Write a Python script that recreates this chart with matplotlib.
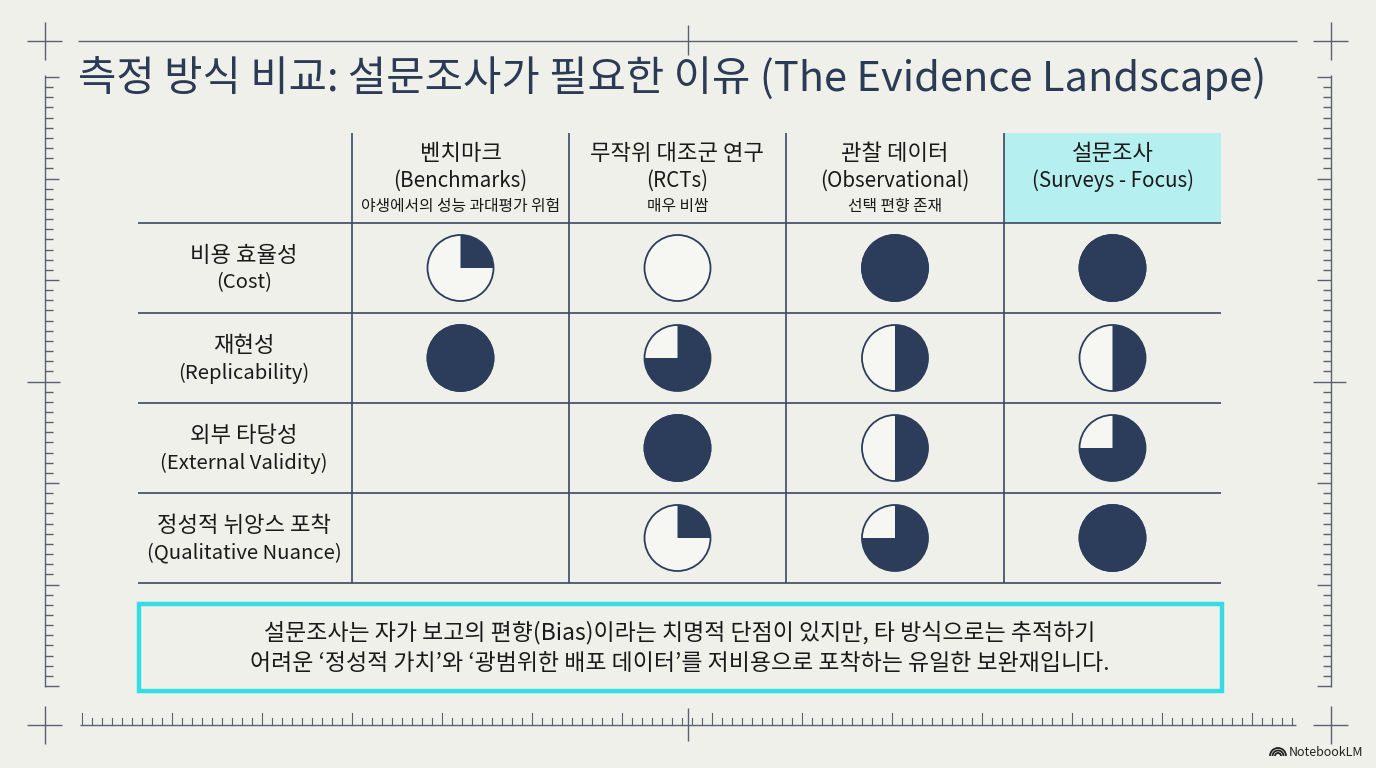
import matplotlib
matplotlib.use("Agg")
import matplotlib.pyplot as plt
from matplotlib.patches import Circle, Wedge, Rectangle, Arc

plt.rcParams['font.family'] = ['Noto Sans CJK KR', 'DejaVu Sans']

# ---- data ----
title = "측정 방식 비교: 설문조사가 필요한 이유 (The Evidence Landscape)"
col_ko = ["벤치마크", "무작위 대조군 연구", "관찰 데이터", "설문조사"]
col_en = ["(Benchmarks)", "(RCTs)", "(Observational)", "(Surveys - Focus)"]
col_note = ["야생에서의 성능 과대평가 위험", "매우 비쌈", "선택 편향 존재", ""]
row_ko = ["비용 효율성", "재현성", "외부 타당성", "정성적 뉘앙스 포착"]
row_en = ["(Cost)", "(Replicability)", "(External Validity)", "(Qualitative Nuance)"]
# harvey ball fill (fraction, clockwise from 12 o'clock); None = empty cell
scores = [
    [0.25, 0.0, 1.0, 1.0],
    [1.0, 0.75, 0.5, 0.5],
    [None, 1.0, 0.5, 0.75],
    [None, 0.25, 0.75, 1.0],
]
highlight_col = 3
footer = ["설문조사는 자가 보고의 편향(Bias)이라는 치명적 단점이 있지만, 타 방식으로는 추적하기",
          "어려운 ‘정성적 가치’와 ‘광범위한 배포 데이터’를 저비용으로 포착하는 유일한 보완재입니다."]

# ---- style ----
BG = "#f0f0ea"
NAVY = "#2c3d5c"
LINE = "#3a4862"
TXT = "#1a1a1a"
RULE = "#5a6070"
CYAN_FILL = "#b6eff0"
CYAN_EDGE = "#34dde5"
BALL_BG = "#f6f6f2"

W, H = 1376, 768
fig = plt.figure(figsize=(W / 100, H / 100), dpi=100, facecolor=BG)
ax = fig.add_axes([0, 0, 1, 1])
ax.set_xlim(0, W)
ax.set_ylim(H, 0)
ax.axis("off")
ax.set_facecolor(BG)

# ---- frame / rulers ----
rkw = dict(color=RULE, lw=1.0, solid_capstyle="butt")
ax.plot([78, 1297], [41, 41], **rkw)
ax.plot([688, 688], [25, 55], **rkw)
for cx, cy in [(45, 41), (1331, 41), (45, 725), (1331, 725)]:
    ax.plot([cx - 18, cx + 17], [cy, cy], **rkw)
    ax.plot([cx, cx], [cy - 19, cy + 19], **rkw)

# side rulers
for side, sx in [(1, 45), (-1, 1331)]:
    ax.plot([sx, sx], [75, 687], **rkw)
    for i in range(61):
        y = 77 + i * 10.15
        if i == 30:
            ax.plot([sx - 18, sx + 15], [y, y], **rkw)
        elif i % 10 == 0:
            ax.plot([sx, sx + side * 14], [y, y], **rkw)
        else:
            ax.plot([sx, sx + side * 8], [y, y], **rkw)

# bottom ruler
ax.plot([80, 1296], [725, 725], **rkw)
for i in range(122):
    x = 82 + i * 10.0
    ln = 12 if i % 9 == 0 else 7
    ax.plot([x, x], [725, 725 - ln], color=RULE, lw=0.8)
ax.plot([688, 688], [708, 741], **rkw)

# ---- title ----
ax.text(78, 78, title, fontsize=30, color="#2b3a55", ha="left", va="center",
        fontweight="medium")

# ---- table ----
col_edges = [352, 569, 786, 1004, 1221]
row_edges = [223, 313, 403, 493, 583]
top = 133
left = 138

ax.add_patch(Rectangle((col_edges[highlight_col], top),
                       col_edges[highlight_col + 1] - col_edges[highlight_col],
                       row_edges[0] - top, facecolor=CYAN_FILL, edgecolor="none"))

lkw = dict(color=LINE, lw=1.2, solid_capstyle="butt")
for y in row_edges:
    ax.plot([left, col_edges[-1]], [y, y], **lkw)
for x in col_edges[:-1]:
    ax.plot([x, x], [top, row_edges[-1]], **lkw)

for j in range(len(col_ko)):
    cx = (col_edges[j] + col_edges[j + 1]) / 2
    ax.text(cx, 154, col_ko[j], fontsize=16, color=TXT, ha="center", va="center",
            fontweight="medium")
    ax.text(cx, 181, col_en[j], fontsize=14.8, color=TXT, ha="center", va="center")
    if col_note[j]:
        ax.text(cx, 207, col_note[j], fontsize=11.4, color=TXT, ha="center", va="center")

for i in range(len(row_ko)):
    cy = (row_edges[i] + row_edges[i + 1]) / 2
    ax.text(244, cy - 13, row_ko[i], fontsize=16, color=TXT, ha="center", va="center",
            fontweight="medium")
    ax.text(244, cy + 15, row_en[i], fontsize=14.6, color=TXT, ha="center", va="center")
    for j, val in enumerate(scores[i]):
        if val is None:
            continue
        cx = (col_edges[j] + col_edges[j + 1]) / 2
        r = 33
        ax.add_patch(Circle((cx, cy), r, facecolor=BALL_BG, edgecolor=NAVY, lw=1.3, zorder=3))
        if val >= 1:
            ax.add_patch(Circle((cx, cy), r, facecolor=NAVY, edgecolor=NAVY, lw=1.3, zorder=4))
        elif val > 0:
            # y axis is inverted, so ccw in data = clockwise on screen
            ax.add_patch(Wedge((cx, cy), r, -90, -90 + 360 * val,
                               facecolor=NAVY, edgecolor="none", zorder=4))

# ---- footer box ----
ax.add_patch(Rectangle((139, 604), 1083, 87, facecolor="none",
                       edgecolor=CYAN_EDGE, lw=3.2, zorder=2))
ax.text(680, 633, footer[0], fontsize=16.5, color=TXT, ha="center", va="center",
        fontweight="medium")
ax.text(680, 663, footer[1], fontsize=16.5, color=TXT, ha="center", va="center",
        fontweight="medium")

# ---- watermark ----
for rr in (3, 5.5, 8):
    ax.add_patch(Arc((1278, 756), 2 * rr, 2 * rr, theta1=180, theta2=360,
                     color="#222222", lw=1.3))
ax.text(1289, 752, "NotebookLM", fontsize=9, color="#222222", ha="left", va="center")

fig.savefig("out.png", dpi=100, facecolor=BG)
